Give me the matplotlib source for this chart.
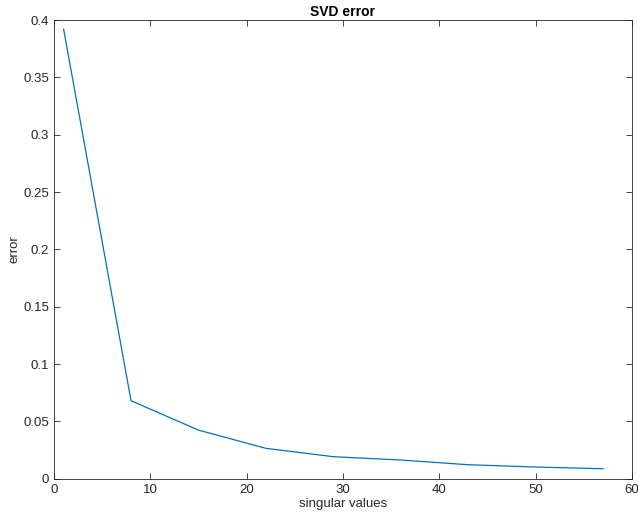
import numpy as np
import matplotlib
matplotlib.use('Agg')
import matplotlib.pyplot as plt

# singular values kept vs. reconstruction error
n_sv = [1, 8, 15, 22, 29, 36, 43, 50, 57]
err = [0.392, 0.068, 0.0424, 0.0265, 0.0192, 0.0163, 0.0122, 0.0102, 0.0087]

plt.rcParams['font.family'] = ['Liberation Sans', 'DejaVu Sans']
plt.rcParams['font.size'] = 9.5

fig = plt.figure(figsize=(6.38, 5.2), dpi=100)
ax = fig.add_axes([0.0846, 0.0794, 0.906, 0.882])
ax.plot(n_sv, err, color='#0072BD', lw=0.9)

ax.set_xlim(0, 60)
ax.set_ylim(0, 0.4)
ax.set_xticks(np.arange(0, 61, 10))
ax.set_yticks(np.arange(0, 0.41, 0.05))
ax.set_yticklabels(['0', '0.05', '0.1', '0.15', '0.2', '0.25', '0.3', '0.35', '0.4'])
ax.tick_params(direction='in', length=4, width=0.6, colors='#262626',
               top=True, right=True, labelcolor='#262626')
for s in ax.spines.values():
    s.set_color('#262626')
    s.set_linewidth(0.6)

ax.set_xlabel('singular values', color='#262626', labelpad=2)
ax.set_ylabel('error', color='#262626', labelpad=2)
ax.set_title('SVD error', fontweight='bold', fontsize=10, pad=3)

fig.savefig('out.png', dpi=100)
